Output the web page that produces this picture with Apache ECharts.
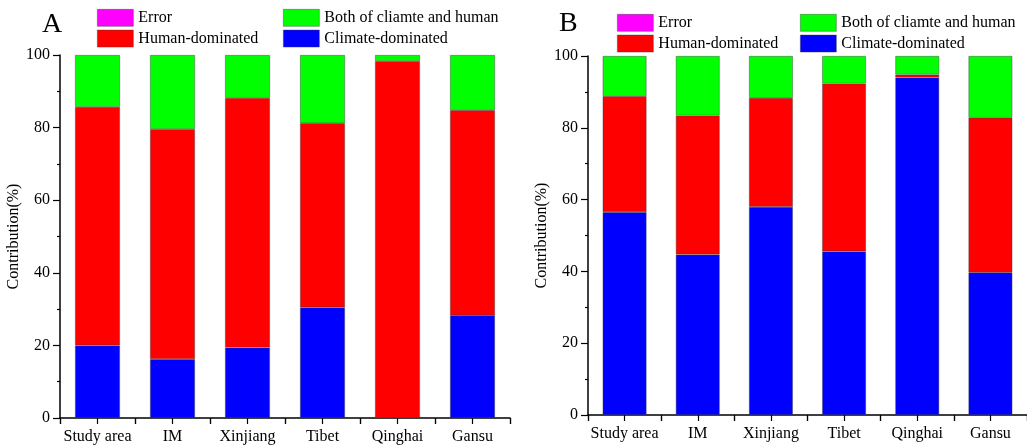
<!DOCTYPE html>
<html>
<head>
<meta charset="utf-8">
<script src="https://cdn.jsdelivr.net/npm/echarts@6/dist/echarts.min.js"></script>
<style>
  html, body { margin: 0; padding: 0; background: #fff; }
  #chart { width: 1027px; height: 448px; }
</style>
</head>
<body>
<div id="chart"></div>
<script>
// categories and values (percent)
const regions = ['Study area', 'IM', 'Xinjiang', 'Tibet', 'Qinghai', 'Gansu'];
const yTicks = [0, 20, 40, 60, 80, 100];

// panel A
const climateA = [20.0, 16.2, 19.4, 30.5, 0, 28.3];
const humanA = [65.7, 63.4, 68.8, 50.7, 98.3, 56.5];
const bothA = [14.3, 20.4, 11.8, 18.8, 1.7, 15.2];
const errorA = [0, 0, 0, 0, 0, 0];

// panel B
const climateB = [56.5, 44.7, 58.0, 45.6, 94.0, 39.7];
const humanB = [32.3, 38.7, 30.3, 46.7, 0.8, 43.1];
const bothB = [11.2, 16.6, 11.7, 7.7, 5.2, 17.2];
const errorB = [0, 0, 0, 0, 0, 0];

const FONT = 'Liberation Serif';
const colors = {
    'Climate-dominated': '#0000ff',
    'Human-dominated': '#ff0000',
    'Both of cliamte and human': '#00ff00',
    'Error': '#ff00ff'
};
const gridA = { left: 60, top: 55, width: 450, height: 363 };
const gridB = { left: 588, top: 56, width: 440, height: 359 };
// one empty slot per half category, edges included, for the tick overlay
const halfSlots = new Array(regions.length * 2 + 1).fill('');

let myChart = echarts.init(document.getElementById('chart'));

const barSeries = (name, data, idx, stack) => ({
    name: name,
    type: 'bar',
    stack: stack,
    xAxisIndex: idx,
    yAxisIndex: idx,
    barCategoryGap: '40%',
    data: data,
    itemStyle: {
        color: colors[name],
        borderColor: 'rgba(60,60,60,0.6)',
        borderWidth: name === 'Error' ? 0 : 0.7
    }
});

// category axis: line, labels and ticks between the categories
const mainX = (grid) => ({
    type: 'category',
    gridIndex: grid,
    position: 'bottom',
    data: regions,
    axisLine: { show: true, onZero: false, lineStyle: { color: '#000', width: 1.5 } },
    axisTick: { show: true, interval: 0, length: 6, lineStyle: { color: '#000', width: 1.2 } },
    axisLabel: { interval: 0, color: '#000', fontFamily: FONT, fontSize: 16, margin: 11 }
});
// overlay axis: a tick at every half category (boundaries and bar centres)
const tickX = (grid) => ({
    type: 'category',
    gridIndex: grid,
    position: 'bottom',
    boundaryGap: false,
    data: halfSlots,
    axisLine: { show: false, onZero: false },
    axisTick: { show: true, interval: 0, length: 6, lineStyle: { color: '#000', width: 1.2 } },
    axisLabel: { show: false },
    splitLine: { show: false }
});
const valueY = (grid, gap) => ({
    type: 'value',
    gridIndex: grid,
    min: yTicks[0],
    max: yTicks[yTicks.length - 1],
    interval: 20,
    name: 'Contribution(%)',
    nameLocation: 'middle',
    nameGap: gap,
    nameTextStyle: { color: '#000', fontFamily: FONT, fontSize: 16 },
    axisLine: { show: true, lineStyle: { color: '#000', width: 1.5 } },
    axisTick: { show: true, length: 7, lineStyle: { color: '#000', width: 1.2 } },
    minorTick: { show: true, splitNumber: 2, length: 3, lineStyle: { color: '#000', width: 1.2 } },
    splitLine: { show: false },
    axisLabel: { color: '#000', fontFamily: FONT, fontSize: 16, margin: 10 }
});
const hiddenY = (grid) => ({
    type: 'value', gridIndex: grid, min: 0, max: 100, show: false
});
const legendBox = (left, top, names) => ({
    left: left,
    top: top,
    padding: 0,
    orient: 'vertical',
    icon: 'rect',
    itemWidth: 36,
    itemHeight: 17,
    itemGap: 3,
    selectedMode: false,
    data: names,
    itemStyle: { borderColor: 'rgba(60,60,60,0.6)', borderWidth: 0.7 },
    textStyle: { color: '#000', fontFamily: FONT, fontSize: 16 }
});

myChart.setOption({
    animation: false,
    title: [
        { text: 'A', left: 42, top: 11, padding: 0, textStyle: { fontFamily: FONT, fontSize: 28, fontWeight: 'normal', color: '#000' } },
        { text: 'B', left: 559, top: 10, padding: 0, textStyle: { fontFamily: FONT, fontSize: 28, fontWeight: 'normal', color: '#000' } }
    ],
    legend: [
        legendBox(97, 9, ['Error', 'Human-dominated']),
        legendBox(283, 9, ['Both of cliamte and human', 'Climate-dominated']),
        legendBox(617, 14, ['Error', 'Human-dominated']),
        legendBox(800, 14, ['Both of cliamte and human', 'Climate-dominated'])
    ],
    grid: [gridA, gridB, Object.assign({}, gridA), Object.assign({}, gridB)],
    xAxis: [mainX(0), mainX(1), tickX(2), tickX(3)],
    yAxis: [valueY(0, 31), valueY(1, 38), hiddenY(2), hiddenY(3)],
    series: [
        barSeries('Climate-dominated', climateA, 0, 'a'),
        barSeries('Human-dominated', humanA, 0, 'a'),
        barSeries('Both of cliamte and human', bothA, 0, 'a'),
        barSeries('Error', errorA, 0, 'a'),
        barSeries('Climate-dominated', climateB, 1, 'b'),
        barSeries('Human-dominated', humanB, 1, 'b'),
        barSeries('Both of cliamte and human', bothB, 1, 'b'),
        barSeries('Error', errorB, 1, 'b')
    ]
});
</script>
</body>
</html>
